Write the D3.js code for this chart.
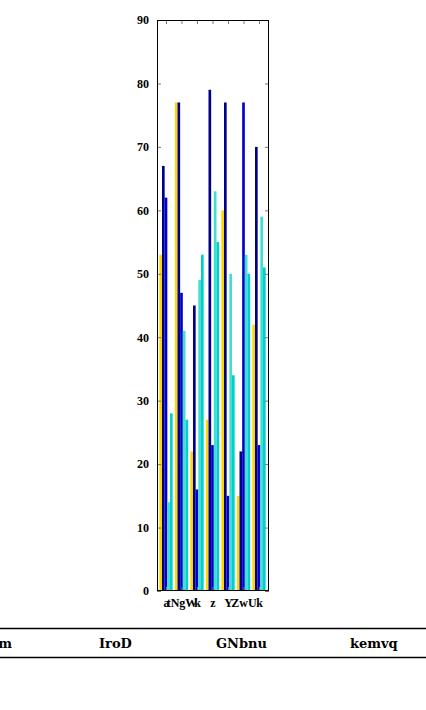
<!DOCTYPE html>
<html>
<head>
<meta charset="utf-8">
<script src="https://cdn.jsdelivr.net/npm/d3@7"></script>
<style>
  html, body { margin: 0; padding: 0; background: #fff; }
  svg { display: block; }
</style>
</head>
<body>
<script>
// ---- data ----
const categories = ["a", "tNgW", "k", "z", "Y", "ZwU", "k"];
const seriesNames = ["s1", "s2", "s3", "s4", "s5"];
const s1 = [53, 77, 22, 27, 60, 15, 42];
const s2 = [67, 77, 45, 79, 77, 22, 70];
const s3 = [62, 47, 16, 23, 15, 77, 23];
const s4 = [14, 41, 49, 63, 50, 53, 59];
const s5 = [28, 27, 53, 55, 34, 50, 51];
const yTicks = [0, 10, 20, 30, 40, 50, 60, 70, 80, 90];
const tableHeaders = ["m", "IroD", "GNbnu", "kemvq"];
const colors = ["#ffd700", "#00008b", "#0000cd", "#40e0d0", "#00ced1"];

const seriesValues = [s1, s2, s3, s4, s5];

const W = 426, H = 710;
const mLeft = 157, mRight = 269, mTop = 20, mBottom = 591;

const svg = d3.select("body").append("svg")
  .attr("width", W).attr("height", H);

const x = d3.scaleLinear().domain([-0.58, 6.645]).range([mLeft, mRight]);
const y = d3.scaleLinear().domain([0, 90]).range([mBottom, mTop]);
const bw = 0.172;

// bars
seriesValues.forEach((vals, k) => {
  svg.append("g").selectAll("rect")
    .data(vals.map((v, i) => ({ i, v })))
    .join("rect")
    .attr("x", d => x(d.i + (k - 2.5) * bw))
    .attr("width", x(bw) - x(0))
    .attr("y", d => y(d.v))
    .attr("height", d => y(0) - y(d.v))
    .attr("fill", colors[k]);
});

const font = "'Liberation Serif', serif";

// y axis (left) with inward ticks
const yAxisL = d3.axisLeft(y).tickValues(yTicks).tickSize(-4).tickPadding(8);
const gL = svg.append("g").attr("transform", `translate(${mLeft},0)`).call(yAxisL);
gL.select(".domain").remove();
gL.selectAll("line").attr("stroke", "#777");
gL.selectAll("text").attr("font-family", font).attr("font-weight", "bold")
  .attr("font-size", 12).attr("fill", "#000");

const yAxisR = d3.axisRight(y).tickValues(yTicks).tickSize(-4).tickFormat("");
const gR = svg.append("g").attr("transform", `translate(${mRight},0)`).call(yAxisR);
gR.select(".domain").remove();
gR.selectAll("line").attr("stroke", "#777");

// x axis
const xt = d3.range(categories.length);
const xAxisB = d3.axisBottom(x).tickValues(xt).tickSize(-4).tickPadding(7)
  .tickFormat(i => categories[i]);
const gB = svg.append("g").attr("transform", `translate(0,${mBottom})`).call(xAxisB);
gB.select(".domain").remove();
gB.selectAll("line").attr("stroke", "#777");
gB.selectAll("text").attr("font-family", font).attr("font-weight", "bold")
  .attr("font-size", 12).attr("fill", "#000");

const xAxisT = d3.axisTop(x).tickValues(xt).tickSize(-4).tickFormat("");
const gT = svg.append("g").attr("transform", `translate(0,${mTop})`).call(xAxisT);
gT.select(".domain").remove();
gT.selectAll("line").attr("stroke", "#777");

// frame
svg.append("rect")
  .attr("x", mLeft + 0.5).attr("y", mTop + 0.5)
  .attr("width", mRight - mLeft - 1).attr("height", mBottom - mTop - 1)
  .attr("fill", "none").attr("stroke", "#000").attr("stroke-width", 1);

// table header below
svg.append("line").attr("x1", 0).attr("x2", W).attr("y1", 628.5).attr("y2", 628.5)
  .attr("stroke", "#000").attr("stroke-width", 1.5);
svg.append("line").attr("x1", 0).attr("x2", W).attr("y1", 657.5).attr("y2", 657.5)
  .attr("stroke", "#000").attr("stroke-width", 1.5);
const headX = [12, 99, 216, 350];
const headAnchor = ["end", "start", "start", "start"];
svg.append("g").selectAll("text")
  .data(tableHeaders)
  .join("text")
  .attr("x", (d, i) => headX[i])
  .attr("y", 648)
  .attr("text-anchor", (d, i) => headAnchor[i])
  .attr("font-family", "'DejaVu Serif', serif")
  .attr("font-weight", "bold")
  .attr("font-size", 13)
  .attr("fill", "#000")
  .text(d => d);
</script>
</body>
</html>
